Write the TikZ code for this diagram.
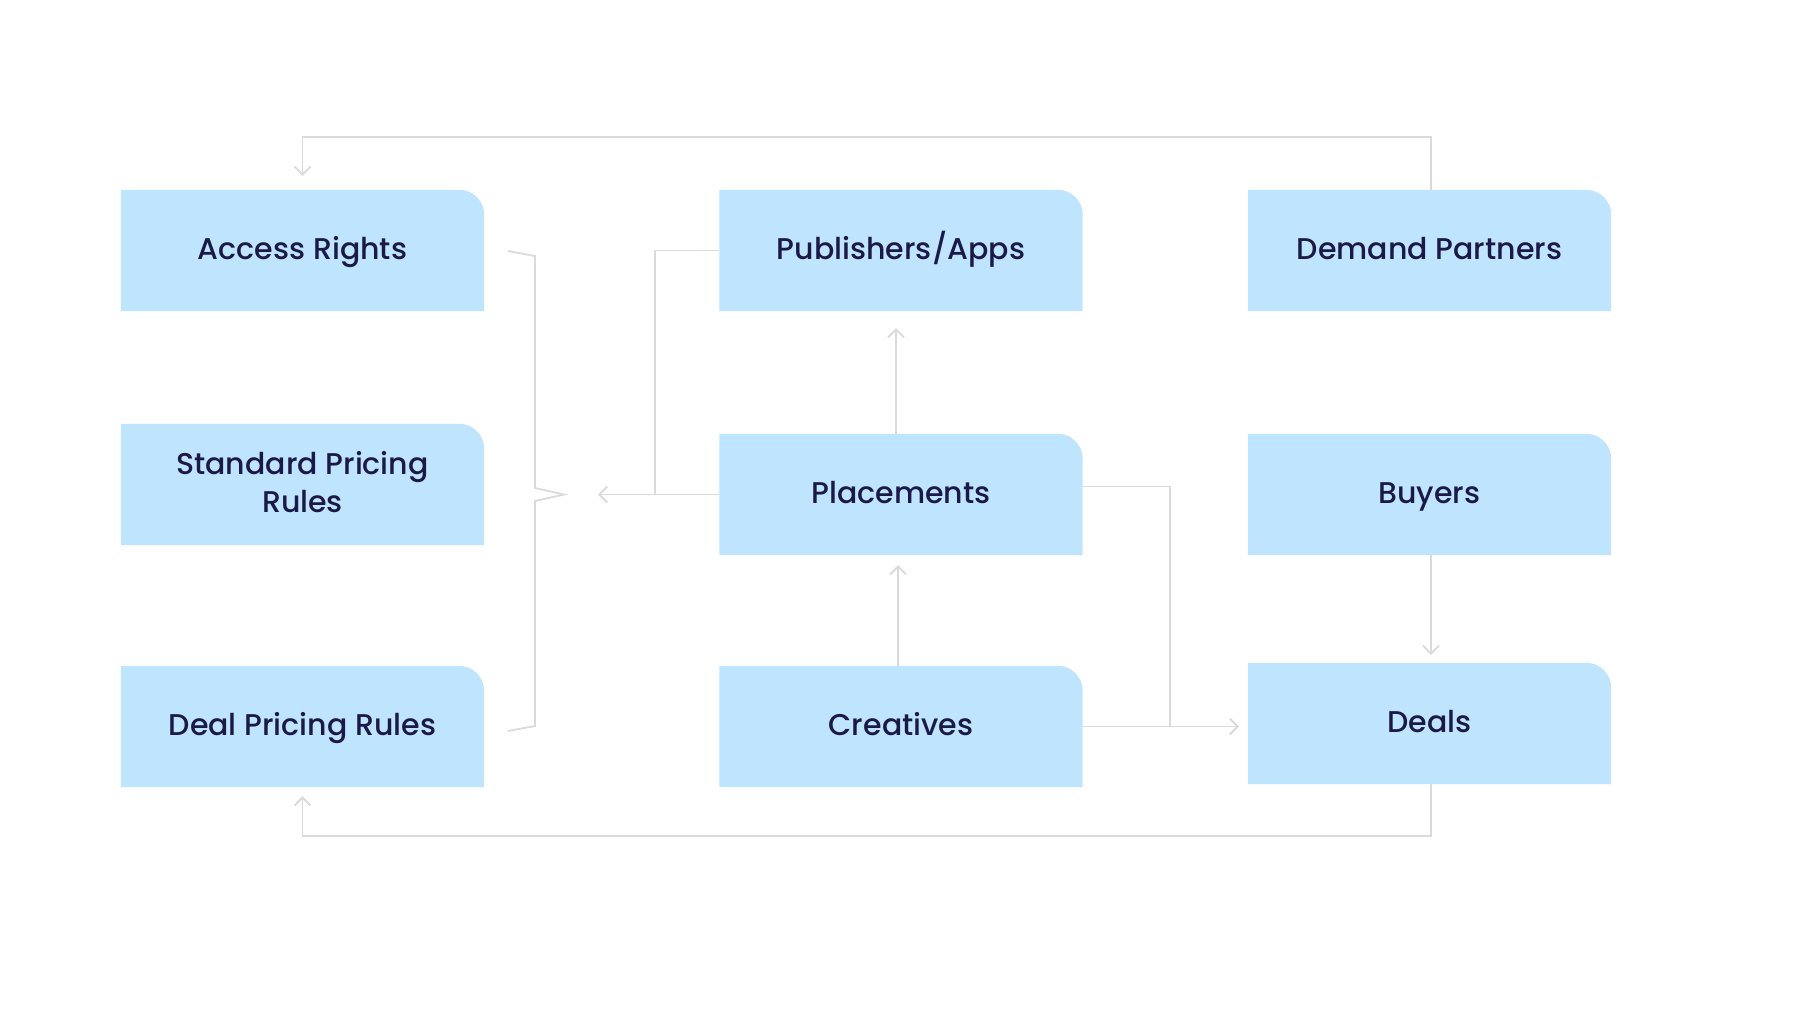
\documentclass[tikz,border=0pt]{standalone}
\usepackage{fontspec}
\setmainfont{Poppins}[UprightFont=*-Medium]
\usetikzlibrary{arrows.meta,calc}
\definecolor{boxblue}{RGB}{191,228,253}
\definecolor{ink}{RGB}{27,25,72}
\definecolor{wirec}{RGB}{218,218,218}
\pgfdeclarelayer{bg}
\pgfsetlayers{bg,main}
\begin{document}
\begin{tikzpicture}[x=1pt,y=-1pt,
 box/.style={minimum width=363pt,minimum height=121pt,inner sep=0pt,text=ink,font=\fontsize{30}{38}\selectfont,align=center},
 oneline/.style={box,text height=25pt,text depth=7pt},
 wire/.style={draw=wirec,line width=1.8pt},
 arr/.style={wire,-{Straight Barb[length=8pt,width=16pt,line width=1.8pt]}}]
\useasboundingbox (0,0) rectangle (1800,1013);

\node[oneline] (ar) at (302.5,250.5) {Access Rights};
\node[box,text depth=6pt] (spr) at (302.5,484.5) {Standard Pricing\\Rules};
\node[oneline] (dpr) at (302.5,726.5) {Deal Pricing Rules};
\node[oneline] (pub) at (901,250.5) {Publishers/Apps};
\node[oneline] (pla) at (901,494.5) {Placements};
\node[oneline] (cre) at (901,726.5) {Creatives};
\node[oneline] (dem) at (1429.5,250.5) {Demand Partners};
\node[oneline] (buy) at (1429.5,494.5) {Buyers};
\node[oneline] (dea) at (1429.5,723.5) {Deals};

\begin{pgfonlayer}{bg}
\fill[white] (0,0) rectangle (1800,1013);
\foreach \n in {ar,spr,dpr,pub,pla,cre,dem,buy,dea}
 \fill[boxblue] (\n.south west) -- (\n.north west) -- ([xshift=-25pt]\n.north east) arc[start angle=90,end angle=0,radius=25pt] -- (\n.south east) -- cycle;
\end{pgfonlayer}

% bracket
\coordinate (b1) at (508,251);
\coordinate (b2) at (535,256);
\coordinate (b3) at (535,488);
\coordinate (btip) at (564,494.5);
\coordinate (b4) at (535,501);
\coordinate (b5) at (535,726);
\coordinate (b6) at (508,731);
\draw[wire] (b1) -- (b2) -- (b3) -- (btip) -- (b4) -- (b5) -- (b6);

\coordinate (tip) at (598,494.5);
\coordinate (pj) at (655,494.5);
\draw[arr] (pla.west) -- (tip);
\draw[wire] (pub.west) -| (pj);

\draw[arr] ([xshift=-5pt]pla.north) -- ([xshift=-5pt,yshift=-17pt]pub.south);
\draw[arr] ([xshift=-3pt]cre.north) -- ([xshift=-3pt,yshift=-10pt]pla.south);

\coordinate (rj) at (1170,726.5);
\draw[wire] ([yshift=8pt]pla.east) -| (rj);
\coordinate (dtip) at (1239,726.5);
\draw[arr] (cre.east) -- (dtip);

\draw[arr] ([xshift=1.5pt]buy.south) -- ([xshift=1.5pt,yshift=8pt]dea.north);
\draw[arr] ([xshift=1.5pt]dem.north) -- ++(0,-53) -| ([yshift=14pt]ar.north);
\draw[arr] ([xshift=1.5pt]dea.south) -- ++(0,52) -| ([yshift=-9pt]dpr.south);
\end{tikzpicture}
\end{document}
